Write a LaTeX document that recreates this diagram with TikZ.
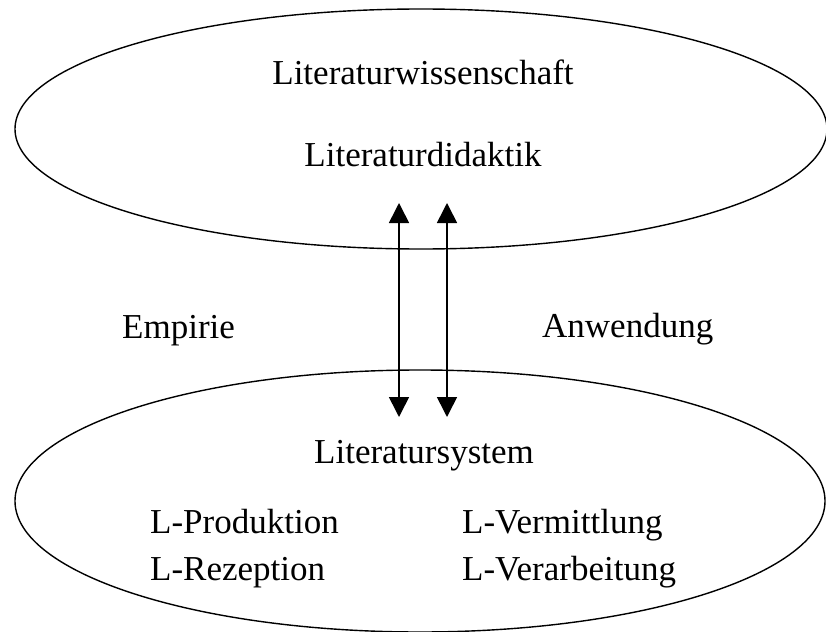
\documentclass[tikz,border=0pt]{standalone}
\usepackage{fontspec}
\setmainfont{Liberation Serif}
\usetikzlibrary{shapes.geometric,arrows.meta}
\begin{document}
\begin{tikzpicture}[x=1pt,y=-1pt,
  field/.style={draw,ellipse,line width=1.4pt,inner sep=0pt},
  lbl/.style={inner sep=0pt,font=\fontsize{35}{40}\selectfont},
  link/.style={line width=1.6pt,{Triangle[length=20pt,width=20pt]}-{Triangle[length=20pt,width=20pt]}}]
\useasboundingbox (0,0) rectangle (826,631);
\begin{scope}
\clip (0,0) rectangle (826,631);
\node[field,minimum width=812pt,minimum height=240pt] (top) at (421,129) {};
\node[field,minimum width=810pt,minimum height=262pt] (bot) at (420,501) {};
\end{scope}
\node[lbl,anchor=base] (lw) at (423,85) {Literaturwissenschaft};
\node[lbl,anchor=base] (ld) at (423,167) {Literaturdidaktik};
\node[lbl,anchor=base west] (emp) at (122,338) {Empirie};
\node[lbl,anchor=base west] (anw) at (542,337) {Anwendung};
\node[lbl,anchor=base] (ls) at (424,463) {Literatursystem};
\node[lbl,anchor=base west] (lp) at (150,533) {L-Produktion};
\node[lbl,anchor=base west] (lr) at (150,580) {L-Rezeption};
\node[lbl,anchor=base west] (lv) at (462,533) {L-Vermittlung};
\node[lbl,anchor=base west] (lva) at (462,580) {L-Verarbeitung};
\coordinate (a1t) at (399,203);
\coordinate (a1b) at (399,417);
\coordinate (a2t) at (447,203);
\coordinate (a2b) at (447,417);
\draw[link] (a1t) -- (a1b);
\draw[link] (a2t) -- (a2b);
\end{tikzpicture}
\end{document}
